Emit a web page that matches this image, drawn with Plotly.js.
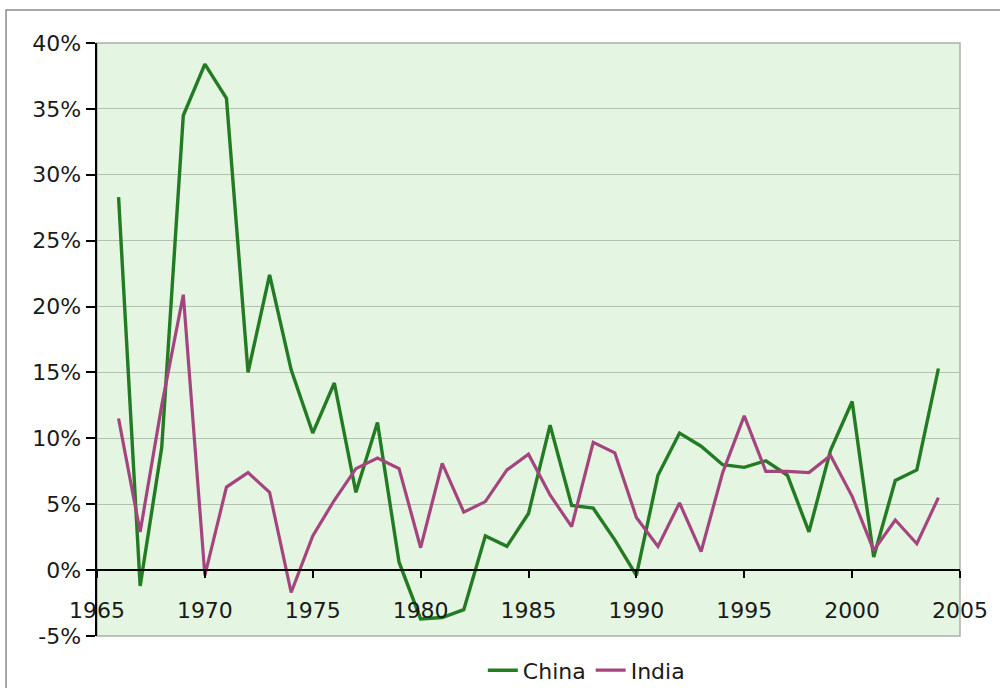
<!DOCTYPE html>
<html>
<head>
<meta charset="utf-8">
<script src="https://cdn.plot.ly/plotly-3.0.1.min.js"></script>
<style>
  html, body { margin: 0; padding: 0; background: #ffffff; overflow: hidden; }
  #chart { width: 1000px; height: 688px; }
</style>
</head>
<body>
<div id="chart"></div>
<script>
const years = [1966,1967,1968,1969,1970,1971,1972,1973,1974,1975,1976,1977,1978,1979,1980,1981,1982,1983,1984,1985,1986,1987,1988,1989,1990,1991,1992,1993,1994,1995,1996,1997,1998,1999,2000,2001,2002,2003,2004];
const china = [28.3,-1.2,9.3,34.5,38.4,35.8,15.0,22.4,15.2,10.4,14.2,5.9,11.2,0.6,-3.7,-3.6,-3.0,2.6,1.8,4.3,11.0,4.9,4.7,2.3,-0.4,7.2,10.4,9.4,8.0,7.8,8.3,7.2,2.9,9.1,12.8,1.0,6.8,7.6,15.3];
const india = [11.5,2.9,12.5,20.9,-0.4,6.3,7.4,5.9,-1.7,2.6,5.3,7.7,8.5,7.7,1.7,8.1,4.4,5.2,7.6,8.8,5.7,3.3,9.7,8.9,4.0,1.8,5.1,1.4,7.4,11.7,7.5,7.5,7.4,8.7,5.6,1.5,3.8,2.0,5.5];
const seriesNames = ["China", "India"];
const xTicks = [1965,1970,1975,1980,1985,1990,1995,2000,2005];
const yTicks = [-5,0,5,10,15,20,25,30,35,40];

const font = {family: "DejaVu Sans, Verdana, sans-serif", size: 22, color: "#1a1a1a"};

const traces = [
  {x: years, y: china, name: seriesNames[0], type: "scatter", mode: "lines",
   line: {color: "#237b23", width: 3.4}},
  {x: years, y: india, name: seriesNames[1], type: "scatter", mode: "lines",
   line: {color: "#a5457f", width: 3.2}}
];

const layout = {
  width: 1000, height: 688,
  margin: {l: 97, r: 40, t: 43, b: 52, pad: 0, autoexpand: false},
  paper_bgcolor: "#ffffff",
  plot_bgcolor: "#e4f6e1",
  font: font,
  showlegend: true,
  legend: {orientation: "h", x: 0.567, xanchor: "center", y: -0.058, yanchor: "middle",
           font: font, bgcolor: "rgba(0,0,0,0)", itemwidth: 30, tracegroupgap: 0},
  xaxis: {
    range: [1965, 2005], tickvals: xTicks, ticktext: xTicks.map(String),
    anchor: "free", position: 5/45,
    showline: true, linecolor: "#000000", linewidth: 2,
    ticks: "outside", ticklen: 7, tickwidth: 2, tickcolor: "#000000",
    ticklabelstandoff: 13,
    showgrid: false, zeroline: false, tickfont: font
  },
  yaxis: {
    range: [-5, 40], tickvals: yTicks, ticktext: yTicks.map(v => v + "%"),
    showline: true, linecolor: "#000000", linewidth: 2.5,
    ticks: "outside", ticklen: 9, tickwidth: 2, tickcolor: "#000000",
    showgrid: true, gridcolor: "#b4c0b4", gridwidth: 1,
    zeroline: false, tickfont: font
  },
  shapes: [
    {type: "rect", xref: "paper", yref: "paper", x0: 0, x1: 1, y0: 0, y1: 1,
     line: {color: "#a8b0a8", width: 1.5}, layer: "below"},
    {type: "rect", xref: "paper", yref: "paper", x0: -0.1054, x1: 1.07, y0: -0.12, y1: 1.0557,
     line: {color: "#8a8a8a", width: 1.5}, fillcolor: "rgba(0,0,0,0)", layer: "above"}
  ]
};

Plotly.newPlot("chart", traces, layout, {displayModeBar: false, staticPlot: true});
</script>
</body>
</html>
